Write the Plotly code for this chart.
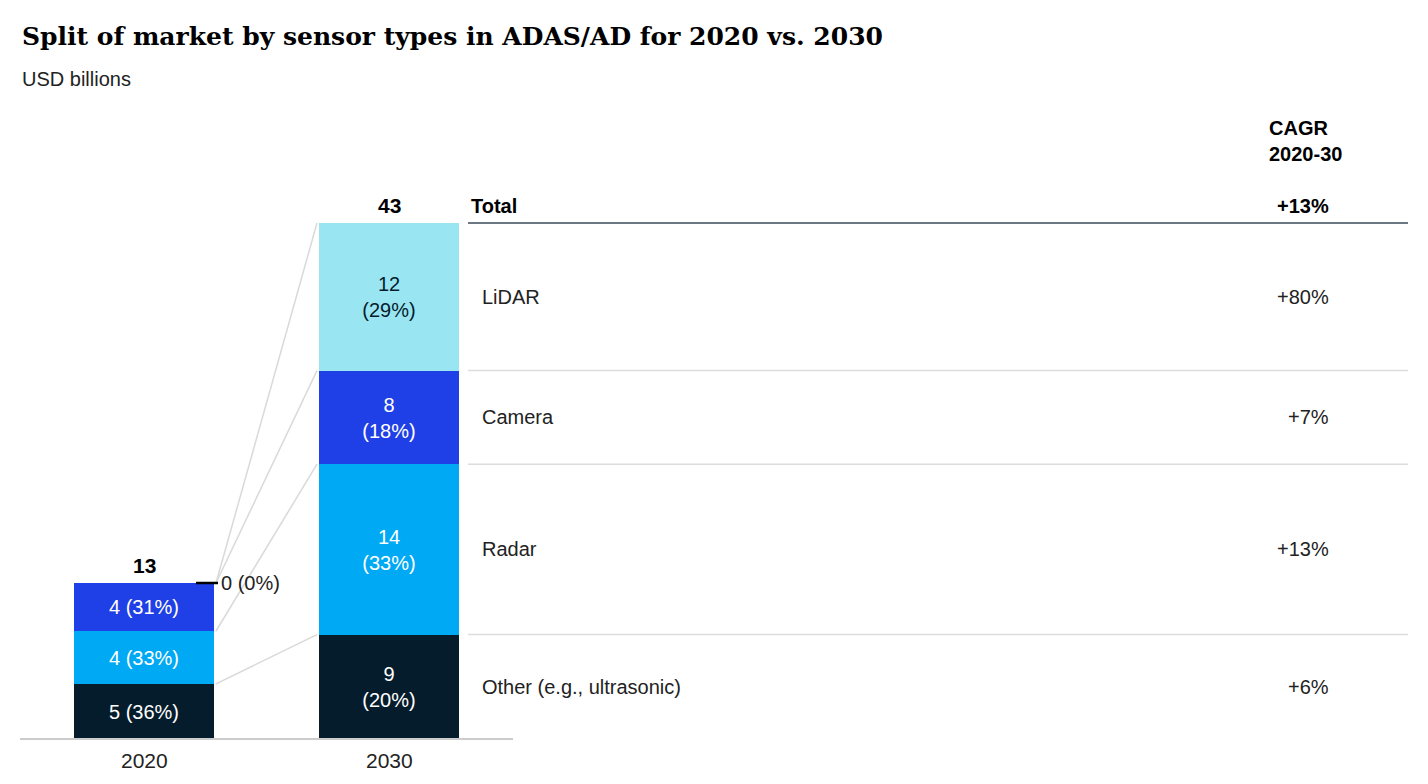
import plotly.graph_objects as go

# data (USD billions)
years = ["2020", "2030"]
sensors = ["Other (e.g., ultrasonic)", "Radar", "Camera", "LiDAR"]
values_2020 = [4.6, 4.4, 4.0, 0.0]
values_2030 = [8.7, 14.2, 7.8, 12.3]
labels_2020 = ["5 (36%)", "4 (33%)", "4 (31%)", "0 (0%)"]
labels_2030 = ["9<br>(20%)", "14<br>(33%)", "8<br>(18%)", "12<br>(29%)"]
totals = ["13", "43"]
cagr = ["+6%", "+13%", "+7%", "+80%"]
cagr_total = "+13%"
colors = ["#051c2c", "#00a9f4", "#1f40e6", "#99e6f2"]
text_colors = ["white", "white", "white", "#051c2c"]

FONT = "Liberation Sans"
x_pos = [136, 381]  # bar centres in pixels
bar_w = 140

fig = go.Figure()
for i, s in enumerate(sensors):
    fig.add_trace(go.Bar(
        x=x_pos, y=[values_2020[i], values_2030[i]], width=bar_w,
        marker=dict(color=colors[i], line=dict(width=0)),
        text=[labels_2020[i] if values_2020[i] > 0 else "", labels_2030[i]],
        textposition="inside", insidetextanchor="middle",
        textfont=dict(color=text_colors[i], size=20, family=FONT),
        hoverinfo="skip", showlegend=False,
    ))
fig.update_layout(barmode="stack")

# cumulative boundaries
def cum(v):
    out, s = [0], 0
    for a in v:
        s += a
        out.append(s)
    return out
c20, c30 = cum(values_2020), cum(values_2030)

# connector lines
for k in range(1, 5):
    fig.add_shape(type="line", x0=x_pos[0] + bar_w / 2 + 2, y0=c20[k], x1=x_pos[1] - bar_w / 2 - 2, y1=c30[k],
                  line=dict(color="#d9d9d9", width=1.5))
# baseline
fig.add_shape(type="line", x0=12, x1=505, y0=0, y1=0, line=dict(color="#cccccc", width=2))

# totals
for xp, t, top in zip(x_pos, totals, [c20[-1], c30[-1]]):
    fig.add_annotation(x=xp, y=top, text="<b>%s</b>" % t, showarrow=False, yanchor="bottom", yshift=4,
                       font=dict(size=21, family=FONT, color="black"))
# zero lidar label 2020
fig.add_shape(type="line", x0=188, x1=210, y0=c20[-1], y1=c20[-1], line=dict(color="black", width=2.5))
fig.add_annotation(x=211, y=c20[-1], text=labels_2020[3], showarrow=False, xanchor="left",
                   font=dict(size=20, family=FONT, color="#222"))
# year labels
for xp, yr in zip(x_pos, years):
    fig.add_annotation(x=xp, y=0, text=yr, showarrow=False, yanchor="top", yshift=-8,
                       font=dict(size=21, family=FONT, color="#222"))

# table
fig.add_annotation(x=461, y=c30[-1], text="<b>Total</b>", showarrow=False, xanchor="left", yanchor="bottom",
                   yshift=4, font=dict(size=20, family=FONT, color="black"))
fig.add_annotation(x=1323, y=c30[-1], text="<b>%s</b>" % cagr_total, showarrow=False, xanchor="right",
                   yanchor="bottom", yshift=4, font=dict(size=20, family=FONT, color="black"))
fig.add_annotation(x=1259, y=c30[-1], text="<b>CAGR<br>2020-30</b>", showarrow=False, xanchor="left",
                   yanchor="bottom", yshift=56, align="left", font=dict(size=20, family=FONT, color="black"))
fig.add_shape(type="line", x0=460, x1=1400, y0=c30[-1], y1=c30[-1], line=dict(color="#3a4a5a", width=1.5))
for i, s in enumerate(sensors):
    mid = (c30[i] + c30[i + 1]) / 2
    fig.add_annotation(x=472, y=mid, text=s, showarrow=False, xanchor="left",
                       font=dict(size=20, family=FONT, color="#222"))
    fig.add_annotation(x=1323, y=mid, text=cagr[i], showarrow=False, xanchor="right",
                       font=dict(size=20, family=FONT, color="#222"))
    if i < 3:
        fig.add_shape(type="line", x0=460, x1=1400, y0=c30[i + 1], y1=c30[i + 1],
                      line=dict(color="#dddddd", width=1.5))

# titles
fig.add_annotation(x=12, y=(731 - 28) / 12, text="<b>Split of market by sensor types in ADAS/AD for 2020 vs. 2030</b>",
                   showarrow=False, xanchor="left", font=dict(size=25, family="DejaVu Serif", color="black"))
fig.add_annotation(x=12, y=(731 - 71) / 12, text="USD billions", showarrow=False, xanchor="left",
                   font=dict(size=20, family=FONT, color="#222"))

fig.update_layout(
    width=1428, height=784, margin=dict(l=0, r=0, t=0, b=0),
    plot_bgcolor="white", paper_bgcolor="white",
    xaxis=dict(range=[0, 1428], visible=False, fixedrange=True),
    yaxis=dict(range=[-53 / 12, 731 / 12], visible=False, fixedrange=True),
    bargap=0,
)
fig.write_html("out.html")
